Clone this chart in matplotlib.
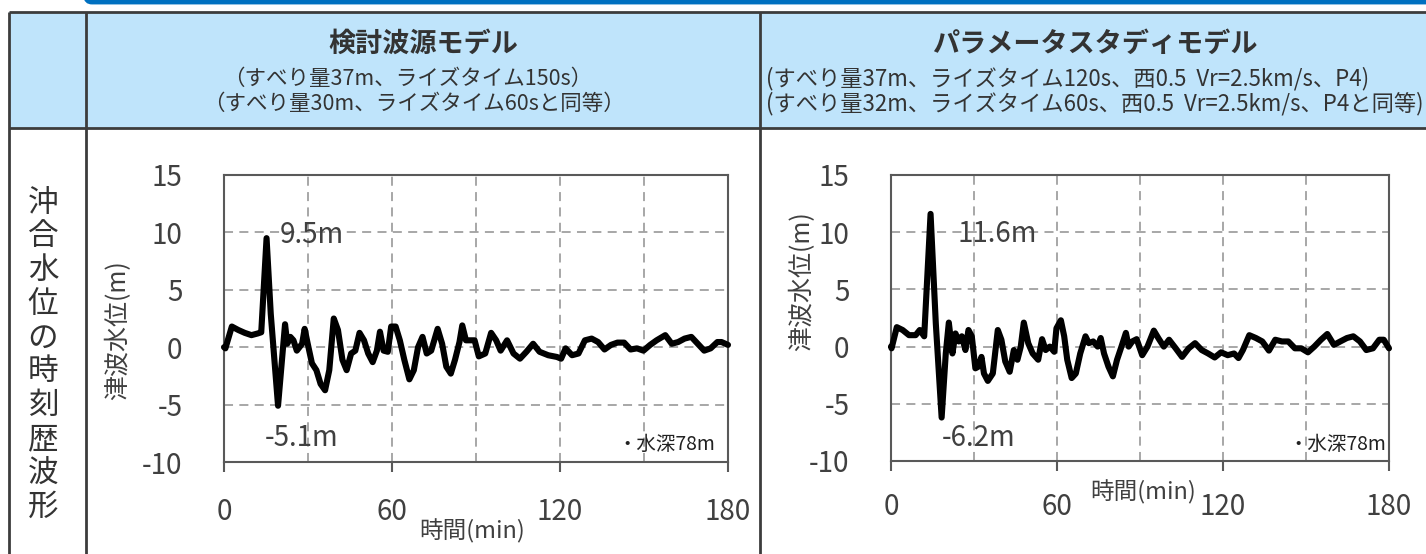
import matplotlib
matplotlib.use("Agg")
import matplotlib.pyplot as plt
from matplotlib.patches import Rectangle, FancyBboxPatch

plt.rcParams['font.family'] = ['Noto Sans CJK JP', 'DejaVu Sans']
plt.rcParams['axes.unicode_minus'] = False

# ---------------- data ----------------
t_left = [0, 0.5, 2.8, 5.1, 7.4, 9.8, 12.1, 13.3, 15.2, 16.7, 19.3, 21.8, 22.6, 23.7, 24.8, 26.0,
          27.9, 28.8, 29.9, 31.4, 33.0, 34.5, 36.1, 37.6, 39.2, 40.7, 42.3, 43.8, 45.4, 46.9,
          48.4, 50.0, 51.5, 53.1, 54.6, 55.7, 57.0, 58.5, 59.7, 61.3, 62.8, 64.4, 66.2, 67.8,
          69.3, 70.9, 72.4, 74.0, 76.3, 77.9, 79.4, 81.0, 82.5, 84.1, 85.1, 86.4, 87.9, 89.5,
          91.0, 93.3, 95.4, 97.2, 98.8, 101.1, 103.4, 105.7, 108.0, 110.4, 112.7, 115.8, 118.9,
          120.4, 122.0, 124.3, 126.6, 128.9, 131.3, 133.6, 135.9, 138.2, 140.5, 142.9, 145.2,
          147.5, 149.8, 152.2, 154.5, 157.6, 159.9, 162.2, 164.5, 166.9, 169.2, 171.5, 173.8,
          176.2, 177.7, 180.0]
v_left = [0.0, -0.1, 1.8, 1.5, 1.25, 1.05, 1.2, 1.3, 9.5, 2.9, -5.1, 2.0, 0.3, 0.9, 0.6, -0.3,
          0.3, 1.6, 0.3, -1.4, -2.0, -3.2, -3.75, -2.0, 2.5, 1.5, -1.1, -2.0, -0.55, -0.3,
          1.25, 0.6, -0.55, -1.3, -0.3, 1.35, -0.3, -0.4, 1.8, 1.8, 0.6, -1.1, -2.8, -2.0,
          0.0, 0.9, -0.55, -0.3, 1.6, 0.3, -1.7, -2.3, -1.1, 0.45, 1.9, 0.6, 0.6, 0.6,
          -0.8, -0.55, 1.25, 0.6, -0.3, 0.6, -0.55, -1.0, -0.4, 0.3, -0.4, -0.7, -0.85,
          -1.0, -0.1, -0.7, -0.55, 0.6, 0.75, 0.45, -0.2, 0.2, 0.4, 0.4, -0.2,
          -0.1, -0.3, 0.2, 0.6, 1.05, 0.3, 0.45, 0.75, 0.9, 0.3, -0.3, -0.1,
          0.45, 0.45, 0.2]

t_right = [0, 0.2, 2.1, 4.2, 6.5, 8.9, 10.4, 12.0, 14.3, 16.2, 18.3, 19.8, 20.9, 22.2, 23.3,
           24.5, 25.6, 26.9, 28.0, 29.2, 30.5, 31.6, 32.7, 33.6, 35.0, 36.8, 38.6, 39.9, 41.3,
           42.9, 44.4, 45.7, 46.9, 48.0, 49.6, 51.2, 53.2, 54.6, 55.9, 57.4, 59.0, 59.8, 61.4,
           62.6, 63.7, 65.3, 66.8, 68.4, 70.3, 71.5, 73.1, 74.7, 75.8, 77.0, 78.6, 80.2, 81.7,
           83.3, 84.9, 85.9, 87.2, 88.8, 90.8, 92.7, 95.0, 96.6, 98.6, 100.5, 102.9, 105.2,
           107.6, 109.9, 112.3, 114.6, 117.0, 119.3, 121.7, 124.0, 125.6, 127.2, 129.5, 131.9,
           134.2, 136.6, 138.9, 141.3, 143.6, 146.0, 148.3, 150.7, 153.0, 155.4, 157.7, 160.1,
           162.4, 164.8, 167.1, 169.5, 171.8, 174.2, 176.5, 178.1, 180.0]
v_right = [0.0, -0.15, 1.7, 1.45, 1.0, 1.0, 1.45, 0.9, 11.6, 2.0, -6.2, -0.6, 2.1, -0.6, 1.15,
           0.45, 0.9, -0.3, 1.45, 0.9, -1.9, -1.75, -0.9, -2.35, -3.0, -2.35, 1.45, 0.6, -1.3,
           -2.2, -0.3, -1.15, 0.0, 2.1, 0.3, -0.6, -1.15, 0.65, -0.3, 0.0, -0.45, 1.6, 2.3,
           0.9, -1.15, -2.75, -2.35, -0.6, 0.9, 0.3, 0.45, 0.0, 0.75, -0.6, -1.75, -2.6, -1.15,
           0.0, 1.2, 0.0, 0.45, 0.65, -0.75, 0.0, 1.4, 0.75, 0.0, 0.6, -0.15, -0.9,
           -0.15, 0.3, -0.3, -0.6, -0.95, -0.5, -0.75, -0.6, -1.0, -0.3, 1.0, 0.75,
           0.45, -0.35, 0.6, 0.45, 0.45, -0.15, -0.15, -0.5, 0.0, 0.6, 1.1, 0.15,
           0.45, 0.75, 0.9, 0.45, -0.3, -0.15, 0.6, 0.6, -0.15]

x_ticks = [0, 60, 120, 180]
y_ticks = [-10, -5, 0, 5, 10, 15]
x_grid = [30, 60, 90, 120, 150]
y_grid = [-5, 0, 5, 10]

title_left = "検討波源モデル"
sub_left = ["（すべり量37m、ライズタイム150s）", "（すべり量30m、ライズタイム60sと同等）"]
title_right = "パラメータスタディモデル"
sub_right = ["(すべり量37m、ライズタイム120s、西0.5  Vr=2.5km/s、P4)",
             "(すべり量32m、ライズタイム60s、西0.5  Vr=2.5km/s、P4と同等)"]
row_label = "沖合水位の時刻歴波形"
y_label = "津波水位(m)"
x_label = "時間(min)"
max_left, min_left = "9.5m", "-5.1m"
max_right, min_right = "11.6m", "-6.2m"
depth_note = "・水深78m"

# ---------------- figure ----------------
W, H = 1426, 554
fig = plt.figure(figsize=(W / 100, H / 100), dpi=100)

def fx(px):
    return px / W

def fy(py):
    return 1 - py / H

bg = fig.add_axes([0, 0, 1, 1])
bg.set_xlim(0, W)
bg.set_ylim(H, 0)
bg.axis('off')

line_c = '#3c3c3c'
bg.add_patch(Rectangle((9, 12), W, 116, facecolor='#BFE4FB', edgecolor='none', zorder=1))
bg.add_patch(FancyBboxPatch((86, -60), 1500, 62, boxstyle="round,pad=0,rounding_size=6",
                            facecolor='none', edgecolor='#0070C0', linewidth=3.5, zorder=2))
for (x0, y0, x1, y1) in [(9, 12, W + 5, 12), (9, 128, W + 5, 128),
                         (9, 12, 9, H + 5), (86, 12, 86, H + 5), (760, 12, 760, H + 5)]:
    bg.plot([x0, x1], [y0, y1], color=line_c, lw=2.0, solid_capstyle='butt', zorder=3)

txt_c = '#333333'
bg.text(423, 44, title_left, ha='center', va='center', fontsize=19.5, fontweight='bold', color=txt_c)
bg.text(408, 79, sub_left[0], ha='center', va='center', fontsize=15.5, color=txt_c)
bg.text(414, 104, sub_left[1], ha='center', va='center', fontsize=15.5, color=txt_c)
bg.text(1095, 44, title_right, ha='center', va='center', fontsize=19.5, fontweight='bold', color=txt_c)
bg.text(766, 79, sub_right[0], ha='left', va='center', fontsize=16, color=txt_c)
bg.text(766, 104, sub_right[1], ha='left', va='center', fontsize=16, color=txt_c)

for i, ch in enumerate(row_label):
    bg.text(43, 203 + i * 33.8, ch, ha='center', va='center', fontsize=22, color=txt_c)

grid_c = '#a0a0a0'
spine_c = '#595959'
tick_c = '#404040'

def make_axes(rect, t, v, ann_max, ann_min, pos_max, pos_min, pos_note):
    ax = fig.add_axes(rect)
    ax.plot(t, v, color='black', lw=4.4, solid_joinstyle='round', solid_capstyle='round',
            zorder=5, clip_on=False)
    ax.set_xlim(0, 180)
    ax.set_ylim(-10, 15)
    ax.set_xticks(x_ticks)
    ax.set_yticks(y_ticks)
    for g in x_grid:
        ax.axvline(g, color=grid_c, lw=1.3, ls=(0, (5, 3.5)), zorder=1)
    for g in y_grid:
        ax.axhline(g, color=grid_c, lw=1.3, ls=(0, (5, 3.5)), zorder=1)
    for s in ax.spines.values():
        s.set_color(spine_c)
        s.set_linewidth(1.5)
    ax.tick_params(axis='y', length=0, pad=30, labelsize=20, labelcolor=tick_c)
    ax.tick_params(axis='x', direction='out', length=7, width=1.5, color=spine_c,
                   pad=18, labelsize=20, labelcolor=tick_c)
    ax.text(pos_max[0], pos_max[1], ann_max, ha='left', va='center', fontsize=20, color=tick_c, zorder=6)
    ax.text(pos_min[0], pos_min[1], ann_min, ha='left', va='center', fontsize=20, color=tick_c, zorder=6)
    ax.text(pos_note[0], pos_note[1], depth_note, ha='right', va='center', fontsize=14, color='#222222', zorder=6)
    return ax

axL = make_axes([fx(224), fy(462), fx(504), 287 / H], t_left, v_left,
                max_left, min_left, (20, 9.8), (14.6, -7.9), (175.5, -8.5))
axR = make_axes([fx(891), fy(461), fx(498), 286 / H], t_right, v_right,
                max_right, min_right, (24.2, 9.85), (18.4, -7.95), (179, -8.55))
axR.tick_params(axis='x', pad=15)

fig.text(fx(472), fy(531), x_label, ha='center', va='center', fontsize=17, color=tick_c)
fig.text(fx(1143), fy(492), x_label, ha='center', va='center', fontsize=17, color=tick_c)
fig.text(fx(118), fy(330), y_label, ha='center', va='center', fontsize=18, rotation=90, color=tick_c)
fig.text(fx(802), fy(281), y_label, ha='center', va='center', fontsize=18, rotation=90, color=tick_c)

fig.savefig("out.png", dpi=100)
